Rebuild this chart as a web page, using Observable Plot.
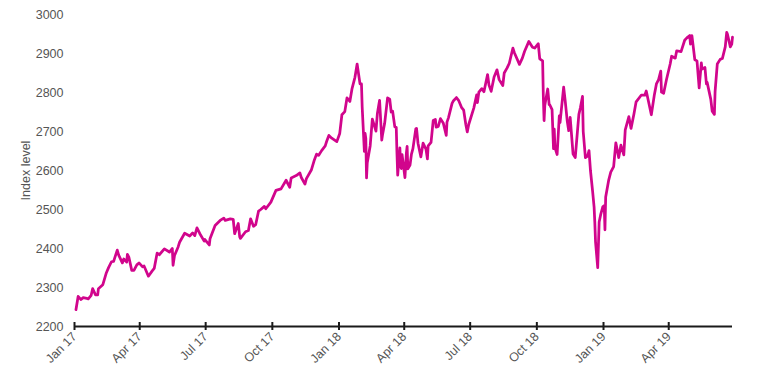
<!DOCTYPE html>
<html>
<head>
<meta charset="utf-8">
<script src="https://cdn.jsdelivr.net/npm/d3@7"></script>
<script src="https://cdn.jsdelivr.net/npm/@observablehq/plot@0.6"></script>
<style>
  html, body { margin: 0; padding: 0; background: #fff; }
  #chart svg { display: block; }
</style>
</head>
<body>
<div id="chart"></div>
<script>
const dates = [
"2017-01-03","2017-01-06","2017-01-10","2017-01-13","2017-01-18","2017-01-20","2017-01-24","2017-01-26","2017-01-30","2017-02-02",
"2017-02-03","2017-02-09","2017-02-14","2017-02-17","2017-02-21","2017-02-24","2017-03-01","2017-03-03","2017-03-08","2017-03-10",
"2017-03-14","2017-03-15","2017-03-17","2017-03-21","2017-03-24","2017-03-28","2017-03-31","2017-04-05","2017-04-07","2017-04-13",
"2017-04-18","2017-04-21","2017-04-25","2017-04-28","2017-05-05","2017-05-12","2017-05-16","2017-05-17","2017-05-19","2017-05-24",
"2017-05-26","2017-06-02","2017-06-09","2017-06-13","2017-06-16","2017-06-19","2017-06-23","2017-06-29","2017-06-30","2017-07-06",
"2017-07-07","2017-07-14","2017-07-21","2017-07-26","2017-07-28","2017-08-04","2017-08-08","2017-08-10","2017-08-15","2017-08-17",
"2017-08-18","2017-08-25","2017-08-29","2017-09-01","2017-09-05","2017-09-08","2017-09-12","2017-09-15","2017-09-20","2017-09-22",
"2017-09-29","2017-10-06","2017-10-13","2017-10-20","2017-10-25","2017-10-27","2017-11-03","2017-11-08","2017-11-10","2017-11-15",
"2017-11-17","2017-11-24","2017-11-28","2017-12-01","2017-12-04","2017-12-08","2017-12-13","2017-12-15","2017-12-18","2017-12-22",
"2017-12-29",
"2018-01-02","2018-01-05","2018-01-09","2018-01-12","2018-01-16","2018-01-19","2018-01-23","2018-01-26","2018-01-30","2018-02-01",
"2018-02-02","2018-02-05","2018-02-06","2018-02-07","2018-02-08","2018-02-09","2018-02-13","2018-02-16","2018-02-21","2018-02-23",
"2018-02-26","2018-03-01","2018-03-02","2018-03-05","2018-03-09","2018-03-12","2018-03-14","2018-03-16","2018-03-19","2018-03-21",
"2018-03-22","2018-03-23","2018-03-26","2018-03-27","2018-03-28","2018-03-29","2018-04-02","2018-04-04","2018-04-05","2018-04-06",
"2018-04-09","2018-04-11","2018-04-13","2018-04-17","2018-04-18","2018-04-20","2018-04-24","2018-04-27","2018-05-01","2018-05-03",
"2018-05-04","2018-05-08","2018-05-11","2018-05-14","2018-05-15","2018-05-18","2018-05-21","2018-05-25","2018-05-29","2018-05-30",
"2018-06-01","2018-06-06","2018-06-08","2018-06-12","2018-06-15","2018-06-19","2018-06-22","2018-06-25","2018-06-27","2018-06-29",
"2018-07-06","2018-07-10","2018-07-11","2018-07-13","2018-07-17","2018-07-20","2018-07-25","2018-07-27","2018-07-30","2018-08-03",
"2018-08-07","2018-08-10","2018-08-15","2018-08-17","2018-08-21","2018-08-24","2018-08-29","2018-08-31","2018-09-07","2018-09-11",
"2018-09-14","2018-09-20","2018-09-25","2018-09-28","2018-10-03","2018-10-05","2018-10-09","2018-10-10","2018-10-11","2018-10-12",
"2018-10-16","2018-10-18","2018-10-19","2018-10-22","2018-10-24","2018-10-25","2018-10-26","2018-10-29","2018-11-01","2018-11-02",
"2018-11-07","2018-11-09","2018-11-12","2018-11-14","2018-11-16","2018-11-20","2018-11-23","2018-11-28","2018-11-30","2018-12-03",
"2018-12-04","2018-12-07","2018-12-10","2018-12-12","2018-12-14","2018-12-17","2018-12-19","2018-12-20","2018-12-21","2018-12-24",
"2018-12-26","2018-12-28","2018-12-31",
"2019-01-02","2019-01-03","2019-01-04","2019-01-08","2019-01-11","2019-01-15","2019-01-18","2019-01-22","2019-01-25","2019-01-29",
"2019-01-31","2019-02-05","2019-02-08","2019-02-12","2019-02-15","2019-02-22","2019-02-27","2019-03-01","2019-03-08","2019-03-12",
"2019-03-15","2019-03-18","2019-03-21","2019-03-22","2019-03-25","2019-03-29","2019-04-03","2019-04-05","2019-04-10","2019-04-12",
"2019-04-18","2019-04-23","2019-04-26","2019-04-30","2019-05-01","2019-05-03","2019-05-07","2019-05-10","2019-05-13","2019-05-16",
"2019-05-17","2019-05-21","2019-05-23","2019-05-24","2019-05-29","2019-05-31","2019-06-03","2019-06-04","2019-06-07","2019-06-11",
"2019-06-14","2019-06-18","2019-06-20","2019-06-21","2019-06-25","2019-06-27","2019-06-28"
];
const values = [
2243,2277,2269,2274,2272,2271,2280,2297,2281,2281,
2297,2307,2338,2351,2366,2367,2396,2383,2363,2373,
2365,2385,2378,2344,2344,2358,2363,2353,2355,2329,
2342,2349,2388,2384,2399,2391,2400,2357,2382,2404,
2416,2439,2432,2440,2433,2453,2438,2419,2423,2409,
2425,2459,2472,2478,2472,2476,2475,2438,2464,2430,
2426,2443,2446,2476,2457,2461,2496,2500,2508,2502,
2519,2549,2553,2575,2557,2581,2587,2594,2582,2565,
2579,2602,2627,2642,2639,2651,2663,2675,2690,2683,
2674,
2695,2743,2751,2786,2777,2810,2839,2873,2822,2822,
2762,2649,2695,2682,2581,2620,2663,2732,2701,2747,
2780,2678,2691,2721,2786,2783,2750,2752,2712,2711,
2643,2588,2658,2613,2605,2641,2582,2645,2662,2604,
2614,2642,2656,2707,2708,2670,2635,2670,2655,2630,
2663,2672,2728,2731,2711,2713,2733,2721,2690,2724,
2735,2772,2779,2787,2780,2762,2755,2718,2699,2718,
2760,2794,2774,2801,2810,2802,2846,2819,2803,2840,
2858,2833,2818,2850,2863,2875,2914,2902,2872,2888,
2905,2931,2916,2914,2925,2886,2881,2786,2728,2767,
2809,2769,2768,2756,2656,2706,2659,2641,2740,2723,
2814,2781,2726,2702,2736,2642,2633,2744,2760,2790,
2700,2633,2637,2651,2600,2546,2507,2467,2417,2351,
2468,2486,2507,
2510,2448,2532,2574,2596,2610,2671,2633,2665,2640,
2704,2738,2708,2745,2776,2793,2793,2804,2743,2792,
2822,2833,2855,2801,2798,2834,2873,2893,2888,2907,
2905,2934,2940,2946,2924,2946,2884,2881,2812,2876,
2860,2864,2822,2826,2783,2752,2744,2803,2873,2885,
2887,2917,2954,2950,2917,2924,2942
];
const yTicks = [2200, 2300, 2400, 2500, 2600, 2700, 2800, 2900, 3000];
const xTickDates = ["2017-01-01","2017-04-01","2017-07-01","2017-10-01","2018-01-01","2018-04-01","2018-07-01","2018-10-01","2019-01-01","2019-04-01"];
const xTickLabels = ["Jan 17","Apr 17","Jul 17","Oct 17","Jan 18","Apr 18","Jul 18","Oct 18","Jan 19","Apr 19"];

const parse = d3.utcParse("%Y-%m-%d");
const data = dates.map((d, i) => ({date: parse(d), value: values[i]}));
const xTicks = xTickDates.map(parse);
const labelOf = new Map(xTicks.map((d, i) => [+d, xTickLabels[i]]));

const chart = Plot.plot({
  width: 757,
  height: 378,
  marginLeft: 74,
  marginRight: 25,
  marginTop: 14,
  marginBottom: 52,
  style: {fontFamily: "'Liberation Sans', Arial, Helvetica, sans-serif", fontSize: "12.5px", color: "#555", background: "#fff"},
  x: {type: "utc", domain: [parse("2017-01-01"), parse("2019-06-28")]},
  y: {domain: [2200, 3000]},
  marks: [
    Plot.axisY({ticks: yTicks, tickSize: 0, tickPadding: 11, tickFormat: d => String(d), fill: "#555", fontSize: 12.5,
      label: "Index level", labelAnchor: "center", labelArrow: "none", labelOffset: 53}),
    Plot.ruleY([2200], {stroke: "#1a1a1a", strokeWidth: 2}),
    Plot.axisX({ticks: xTicks, tickSize: 8, dy: -4, stroke: "#1a1a1a", strokeWidth: 2, text: null, label: null}),
    Plot.axisX({ticks: xTicks, tickSize: 0, tickPadding: 8, tickRotate: -45, tickFormat: d => labelOf.get(+d), fill: "#555", fontSize: 12.5, label: null}),
    Plot.line(data, {x: "date", y: "value", stroke: "#d1058c", strokeWidth: 2.75, strokeLinejoin: "round"})
  ]
});
document.getElementById("chart").appendChild(chart);
</script>
</body>
</html>
